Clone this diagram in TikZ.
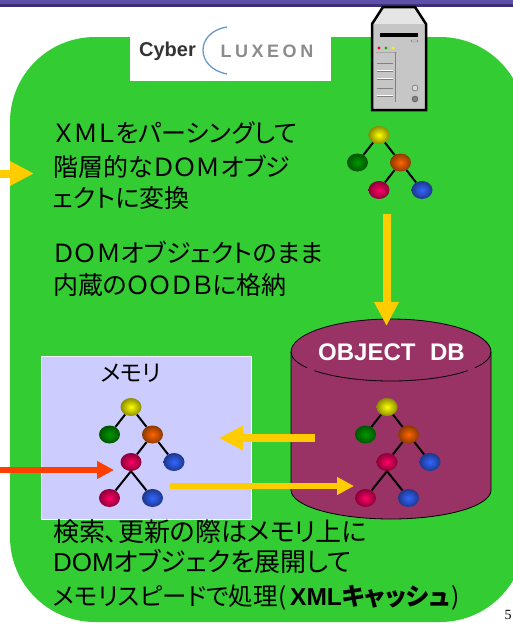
\documentclass[tikz,border=0pt]{standalone}
\usepackage{fontspec}
\setmainfont{Liberation Sans}
\newfontfamily\jpfont[RawFeature=+palt]{Noto Sans CJK JP}
\newfontfamily\numfont{Liberation Serif}
\usetikzlibrary{positioning,arrows.meta,shapes.geometric}
\definecolor{panelgreen}{HTML}{33CC33}
\definecolor{dbred}{HTML}{993366}
\definecolor{memblue}{HTML}{CCCCFF}
\definecolor{flowyellow}{HTML}{FFCC00}
\definecolor{flowred}{HTML}{FF3F00}
\definecolor{bandblue}{HTML}{3A3078}
\definecolor{bandpurple}{HTML}{5F4FA8}
\definecolor{arcblue}{HTML}{6699CC}
\tikzset{
  dom/.style={ellipse,minimum width=21pt,minimum height=18pt,inner sep=0pt,draw=none,
    inner color=#1,outer color=#1!55!black},
  branch/.style={line width=2pt,black},
  jptext/.style={font=\jpfont\fontsize{25}{30}\selectfont,align=left,anchor=west,inner sep=0pt,black},
  bigflow/.style={flowyellow,line width=8pt,-{Triangle[length=24pt,width=23pt]}},
  thinflow/.style={line width=6pt,-{Triangle[length=17pt,width=17pt]}},
}
\definecolor{domyellow}{HTML}{FFFF00}
\definecolor{domgreen}{HTML}{009900}
\definecolor{domorange}{HTML}{FF6600}
\definecolor{dompink}{HTML}{FF0066}
\definecolor{domblue}{HTML}{3366FF}
% one tree of dom objects, #1 prefix of the names, #2 position of the root
\newcommand{\domtop}[2]{%
  \node[dom=domyellow] (#1a) at (#2) {};%
  \node[dom=domgreen] (#1b) [below left=27.5pt and 21.5pt of #1a] {};%
  \node[dom=domorange] (#1c) [below right=27.5pt and 21.5pt of #1a] {};%
  \node[dom=dompink] (#1d) [below left=27.5pt and 21.5pt of #1c] {};%
  \node[dom=domblue] (#1e) [below right=27.5pt and 21.5pt of #1c] {};%
  \draw[branch] (#1a) -- (#1b);
  \draw[branch] (#1a) -- (#1c);
  \draw[branch] (#1c) -- (#1d);
  \draw[branch] (#1c) -- (#1e);
}
\newcommand{\domfull}[2]{%
  \domtop{#1}{#2}
  \node[dom=dompink] (#1f) [below left=36pt and 21.5pt of #1d] {};%
  \node[dom=domblue] (#1g) [below right=36pt and 21.5pt of #1d] {};%
  \draw[branch] (#1d.south) -- (#1f);
  \draw[branch] (#1d.south) -- (#1g);
}
\begin{document}
\begin{tikzpicture}[x=1pt,y=-1pt,on grid]
  \useasboundingbox (0,0) rectangle (513,627);
  \clip (0,0) rectangle (513,627);
  \fill[white] (0,0) rectangle (513,627);
  % title band
  \fill[bandblue] (0,0) rectangle (513,7);
  \fill[bandpurple] (0,0) rectangle (513,3.5);
  % panel
  \fill[panelgreen,rounded corners=85pt] (10,37) rectangle (525,622);
  % logo
  \fill[white] (130,20) rectangle (331,81);
  \node[font=\bfseries\fontsize{20}{20}\selectfont,text=black!80,inner sep=0pt] (cyber) at (167.5,51) {Cyber};
  \node[font=\bfseries\fontsize{18}{18}\selectfont,text=black!45,inner sep=0pt] (luxeon) at (267,51) {L\hspace{3.5pt}U\hspace{3.5pt}X\hspace{3.5pt}E\hspace{3.5pt}O\hspace{3.5pt}N};
  \draw[line width=1.3pt,color=arcblue] (227,27) .. controls (195,32) and (195,68) .. (227,74);
  % server
  \begin{scope}[line join=miter]
    \fill[gray!20] (383,7) -- (415,7) -- (426,24) -- (372,24) -- cycle;
    \fill[gray!45] (372,24) rectangle (426,110);
    \draw[line width=2.5pt] (383,7) -- (415,7) -- (426,24) -- (426,110) -- (372,110) -- (372,24) -- cycle;
    \fill[black] (380,33) rectangle (418,37);
    \draw[gray,rounded corners=1pt] (411,40) rectangle (418,42);
    \fill[red] (379,48) circle (1.6);
    \fill[green!70!black] (386,48) circle (1.6);
    \fill[yellow] (393,48) circle (1.6);
    \draw[gray!70,line width=1pt] (376,52) -- (397,52);
    \draw[gray,line width=0.8pt] (395,52) -- (395,102);
    \foreach \y in {63,88} \draw[gray,line width=0.8pt] (377,\y) -- (393,\y);
    \foreach \y in {71,79,96} {
      \draw[white,line width=0.8pt] (377,\y-1) -- (393,\y-1);
      \draw[gray,line width=0.6pt] (377,\y) -- (393,\y);
    }
    \draw[gray!60!black,fill=gray!30] (415,88) circle (3);
    \draw[gray!60!black,fill=gray] (415,99) circle (3);
  \end{scope}
  % memory
  \node[fill=memblue,draw=white,minimum width=210pt,minimum height=163pt,anchor=north west,inner sep=0pt] (memory) at (41,356) {};
  \node[font=\jpfont\fontsize{23}{23}\selectfont,inner sep=0pt] (memlabel) at (131,373) {メモリ};
  % database
  \fill[dbred] (291,352) arc[start angle=180,end angle=0,x radius=100pt,y radius=33pt]
    -- (491,490) arc[start angle=0,end angle=-180,x radius=100pt,y radius=29pt] -- cycle;
  \draw[line width=0.8pt] (291,490) -- (291,352) arc[start angle=180,end angle=0,x radius=100pt,y radius=33pt] -- (491,490)
    arc[start angle=0,end angle=-180,x radius=100pt,y radius=29pt];
  \draw[line width=0.8pt] (391,352) ++(180:100pt and 29pt) arc[start angle=180,end angle=213,x radius=100pt,y radius=29pt];
  \draw[line width=0.8pt] (391,352) ++(220:100pt and 29pt) arc[start angle=220,end angle=320,x radius=100pt,y radius=29pt];
  \draw[line width=0.8pt] (391,352) ++(327:100pt and 29pt) arc[start angle=327,end angle=360,x radius=100pt,y radius=29pt];
  \node[font=\bfseries\fontsize{24}{24}\selectfont,text=white,inner sep=0pt] (dblabel) at (391.5,352) {OBJECT\hspace{8pt} DB};
  % trees
  \domtop{s}{379,135}
  \domfull{m}{131,407}
  \domfull{d}{387,407}
  % text
  \node[jptext] (parse) at (53,166) {ＸＭＬをパーシングして\\[4pt]階層的なＤＯＭオブジ\\[1pt]ェクトに変換};
  \node[jptext] (store) at (53,269) {ＤＯＭオブジェクトのまま\\[2pt]内蔵のＯＯＤＢに格納};
  \node[jptext,font=\jpfont\fontsize{26}{30}\selectfont] (cache) at (53,565) {検索、更新の際はメモリ上に\\{\rmfamily DOM}オブジェクを展開して\\[4pt]{\fontsize{24.5}{30}\selectfont メモリスピードで処理\hspace{1pt}(\hspace{3pt}{\rmfamily\bfseries XML}{\bfseries キャッシュ}\hspace{2pt})}};
  \node[font=\numfont\fontsize{14}{14}\selectfont,inner sep=0pt] (pageno) at (508,615) {5};
  % flows
  \coordinate (inA) at (0,173.5);
  \coordinate (inB) at (34,173.5);
  \coordinate (toDb) at (386.5,326);
  \coordinate (fromTree) at (386.5,214);
  \coordinate (dbOut) at (315,438);
  \coordinate (memIn) at (219,438);
  \coordinate (memOut) at (170,486);
  \coordinate (dbIn) at (354,486);
  \coordinate (reqA) at (0,470);
  \coordinate (reqB) at (114,470);
  \draw[bigflow] (inA) -- (inB);
  \draw[bigflow] (fromTree) -- (toDb);
  \draw[bigflow] (dbOut) -- (memIn);
  \draw[thinflow,flowyellow] (memOut) -- (dbIn);
  \draw[thinflow,flowred] (reqA) -- (reqB);
\end{tikzpicture}
\end{document}
